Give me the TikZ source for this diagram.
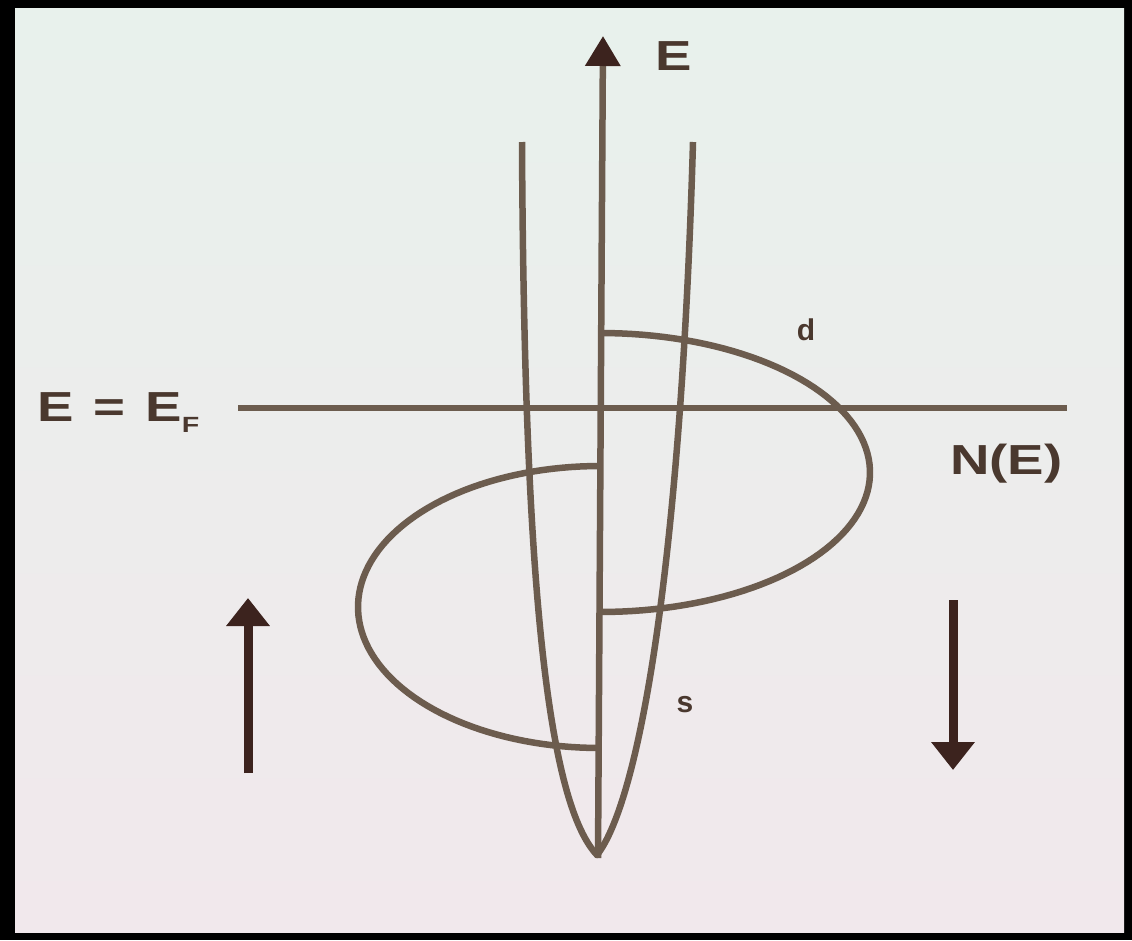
\documentclass[tikz,border=0pt]{standalone}
\usepackage{fontspec}
\setmainfont{Liberation Sans}
\newfontfamily\lblfont[FakeStretch=1.3]{Liberation Sans}
\usetikzlibrary{arrows.meta}
\definecolor{bgtop}{RGB}{232,241,236}
\definecolor{bgbot}{RGB}{241,232,236}
\definecolor{linec}{RGB}{108,92,78}
\definecolor{txtc}{RGB}{74,56,46}
\definecolor{arrc}{RGB}{60,35,30}
\begin{document}
\begin{tikzpicture}[x=1pt,y=-1pt,
  curve/.style={draw=linec, line width=6.5pt, line join=round},
  axisline/.style={draw=linec, line width=6.5pt, -{Triangle[width=34pt,length=30pt,color=arrc]}},
  lbl/.style={text=txtc, font=\lblfont\bfseries\fontsize{42}{42}\selectfont, inner sep=0pt},
  smalllbl/.style={text=txtc, font=\bfseries\fontsize{30}{30}\selectfont, inner sep=0pt},
  spinarrow/.style={draw=arrc, line width=9pt, -{Triangle[width=42pt,length=28pt]}},
]
\useasboundingbox (0,0) rectangle (1132,940);
% frame and paper
\fill[black] (0,0) rectangle (1132,940);
\shade[top color=bgtop, bottom color=bgbot] (15,8) rectangle (1124,932);

% energy axis
\coordinate (ebot) at (598,858);
\coordinate (etop) at (603,36);
\draw[axisline] (ebot) -- (etop);
\node[lbl, anchor=base west] (elabel) at (655,70) {E};

% Fermi level
\coordinate (fl) at (238,408);
\coordinate (fr) at (1067,408);
\draw[curve] (fl) -- (fr);
\node[lbl, anchor=base west] (eflabel) at (37,421)
  {E\hspace{20pt}=\hspace{20pt}E\raisebox{-11pt}{\fontsize{22}{22}\selectfont F}};
\node[lbl, anchor=base west] (nlabel) at (950,474) {N(E)};

% s band (parabola)
\draw[curve] (522,142) .. controls (524,560) and (545,800) .. (597,855)
  .. controls (640,800) and (681,560) .. (693,142);

% d bands (half ellipses)
\draw[curve] plot[domain=-90:90, samples=80]
  ({600+270*cos(\x)}, {472.5+139.5*sin(\x)});
\draw[curve] plot[domain=90:270, samples=80]
  ({600+242*cos(\x)}, {607+141*sin(\x)});

\node[smalllbl] (dlabel) at (806,330) {d};
\node[smalllbl] (slabel) at (685,705) {s};

% spin arrows
\coordinate (ua0) at (248,773);
\coordinate (ua1) at (248,598);
\draw[spinarrow] (ua0) -- (ua1);
\coordinate (da0) at (953,600);
\coordinate (da1) at (953,770);
\draw[spinarrow] (da0) -- (da1);
\end{tikzpicture}
\end{document}
